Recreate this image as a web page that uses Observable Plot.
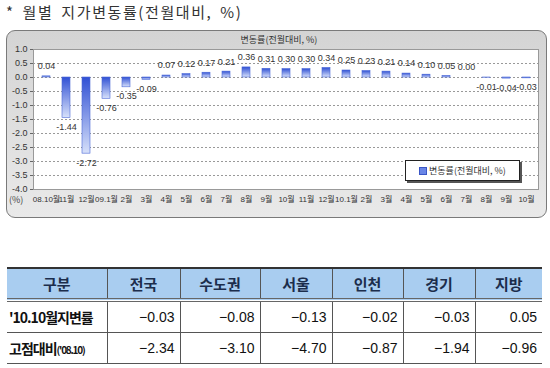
<!DOCTYPE html>
<html><head><meta charset="utf-8">
<script src="https://cdn.jsdelivr.net/npm/d3@7"></script>
<script src="https://cdn.jsdelivr.net/npm/@observablehq/plot@0.6"></script>
<style>
body{margin:0;width:550px;height:368px;overflow:hidden;background:#fff;font-family:"Noto Sans CJK KR","Liberation Sans",sans-serif;position:relative}
#title{position:absolute;left:6px;top:1px;font-size:15px;color:#333;white-space:nowrap;letter-spacing:1.6px;word-spacing:3px}
#box{position:absolute;left:6px;top:30px;width:539px;height:186px;border:1px solid #7a7a7a;border-radius:9px;background:linear-gradient(#d4d4d4,#e9e9e9);box-sizing:content-box}
#chart{position:absolute;left:7px;top:31px}
#ctitle{position:absolute;left:0;width:550px;text-align:center;top:33px;font-size:9px;color:#333;padding-left:8px;box-sizing:border-box}
#pct{position:absolute;left:9px;top:195px;font-size:9px;line-height:10px;color:#444}
#legend{position:absolute;left:405px;top:160px;width:113px;height:19px;background:#fff;border:1px solid #222;box-shadow:2px 2px 0 #555;font-size:9px;color:#333;line-height:19px;text-align:center}
#legend span.m{display:inline-block;width:6px;height:6px;background:#6a86e6;border:1px solid #3a56c6;margin-right:2px;vertical-align:-1px}
table{position:absolute;left:7px;top:267px;width:535px;border-collapse:collapse;table-layout:fixed}
th{background:#a9cdf0;height:29px;font-size:15px;font-weight:700;color:#1c2d4c;border-top:2px solid #333;border-bottom:4px double #666;border-left:1px solid #555;padding:0}
td{height:30px;font-size:14px;color:#111;border-bottom:1px solid #555;border-left:1px solid #555;text-align:right;padding:0 5px 0 0;font-family:"Liberation Sans","Noto Sans CJK KR",sans-serif}
th:first-child,td:first-child{border-left:none}
td.lab{text-align:left;padding-left:2px;font-weight:700;font-family:"Noto Sans CJK KR",sans-serif;letter-spacing:-1px;font-size:14px}
td.lab small{font-size:10px;letter-spacing:-1.2px}
</style></head>
<body>
<div id="title">* 월별 지가변동률(전월대비, %)</div>
<div id="box"></div>
<div id="chart"></div>
<div id="ctitle">변동률(전월대비, %)</div>
<div id="pct">(%)</div>
<div id="legend"><span class="m"></span>변동률(전월대비, %)</div>
<table id="tbl"></table>
<script>
const months = ["08.10월","11월","12월","09.1월","2월","3월","4월","5월","6월","7월","8월","9월","10월","11월","12월","10.1월","2월","3월","4월","5월","6월","7월","8월","9월","10월"];
const rates = [0.04,-1.44,-2.72,-0.76,-0.35,-0.09,0.07,0.12,0.17,0.21,0.36,0.31,0.30,0.30,0.34,0.25,0.23,0.21,0.14,0.10,0.05,0.00,-0.01,-0.04,-0.03];
const yTicks = [1.0,0.5,0.0,-0.5,-1.0,-1.5,-2.0,-2.5,-3.0,-3.5,-4.0];

const regions = ["전국","수도권","서울","인천","경기","지방"];
const octRate = [-0.03,-0.08,-0.13,-0.02,-0.03,0.05];
const vsPeak = [-2.34,-3.10,-4.70,-0.87,-1.94,-0.96];
const headFirst = "구분";
const rowLabels = ["'10.10월지변률","고점대비('08.10)"];

const data = rates.map((v,i)=>({i, v}));
const fnt = "'Liberation Sans','Noto Sans CJK KR',sans-serif";

const plot = Plot.plot({
  width: 539, height: 186,
  marginLeft: 26, marginRight: 8, marginTop: 18, marginBottom: 28,
  style: {background: "transparent", fontFamily: fnt, fontSize: "9px", color: "#333"},
  x: {type: "band", domain: d3.range(rates.length), paddingInner: 0.6, paddingOuter: 0.3, label: null},
  y: {domain: [-4, 1], label: null},
  marks: [
    Plot.frame({fill: "white", stroke: "#999"}),
    Plot.gridY(yTicks, {stroke: "#999", strokeOpacity: 1, strokeDasharray: "2,2"}),
    Plot.barY(data, {x: "i", y: "v", fill: "url(#barGrad)", stroke: "#4a68d8", strokeWidth: 0.6}),
    Plot.text(data.filter(d=>d.v>=0), {x: "i", y: "v", text: d=>d.v.toFixed(2), dy: -10, fontSize: 9, fill: "#333"}),
    Plot.text(data.filter(d=>d.v<0), {x: "i", y: "v", text: d=>d.v.toFixed(2), dy: 9, fontSize: 9, fill: "#333"}),
    Plot.axisY(yTicks, {tickFormat: d=>d.toFixed(1), tickSize: 3, tickPadding: 3, fontSize: 9, stroke:"#666", label: null}),
    Plot.axisX({tickFormat: i=>months[i], tickSize: 0, tickPadding: 7, fontSize: 8, label: null})
  ]
});
const svg = d3.select(plot);
const grad = svg.insert("defs", ":first-child").append("linearGradient")
  .attr("id","barGrad").attr("x1",0).attr("y1",0).attr("x2",0).attr("y2",1);
grad.append("stop").attr("offset",0).attr("stop-color","#3050d4");
grad.append("stop").attr("offset",1).attr("stop-color","#d6e0fa");
document.getElementById("chart").appendChild(plot);

const fmt = v => v.toFixed(2).replace("-", "−");
const tbl = d3.select("#tbl");
const cg = tbl.append("colgroup");
[100,73,80,72,71,72,67].forEach(w=>cg.append("col").style("width", w+"px"));
const hr = tbl.append("tr");
hr.append("th").text(headFirst);
regions.forEach(r=>hr.append("th").text(r));
[octRate, vsPeak].forEach((arr, k)=>{
  const tr = tbl.append("tr");
  const lab = tr.append("td").attr("class","lab");
  if (k===0) lab.text(rowLabels[0]);
  else { lab.text("고점대비"); lab.append("small").text("('08.10)"); }
  arr.forEach(v=>tr.append("td").text(fmt(v)));
});
</script>
</body></html>
